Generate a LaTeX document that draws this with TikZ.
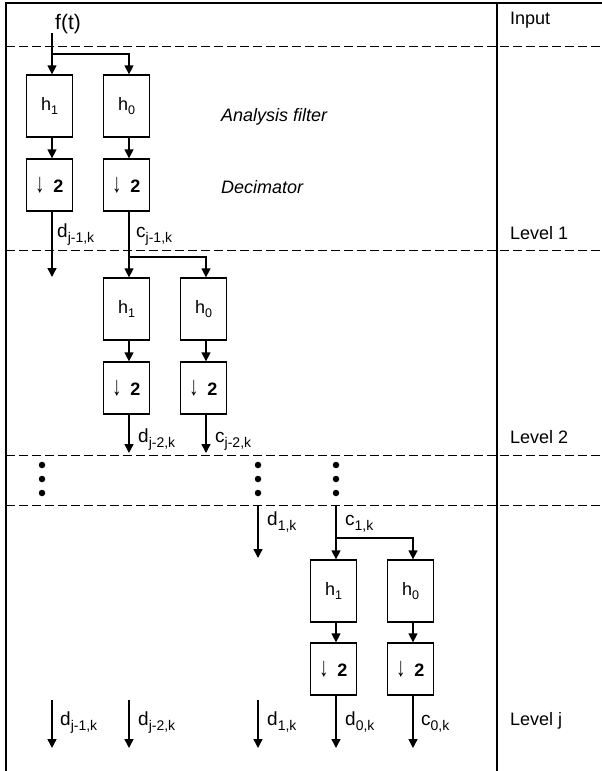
\documentclass[tikz,border=0pt]{standalone}
\usepackage{fontspec}
\setmainfont{Liberation Sans}
\usetikzlibrary{arrows.meta}
\tikzset{
  box/.style={draw, line width=1.3pt, minimum width=46pt, minimum height=62pt, inner sep=0pt, font=\fontsize{18}{20}\selectfont},
  dbox/.style={box, minimum height=52pt},
  flow/.style={line width=1.4pt, -{Triangle[length=9pt,width=9pt]}},
  lbl/.style={anchor=base west, inner sep=0pt, font=\fontsize{18}{20}\selectfont},
  sig/.style={anchor=base west, inner sep=0pt, font=\fontsize{19}{20}\selectfont},
  sep/.style={dash pattern=on 9pt off 4pt, line width=1pt},
  dotm/.style={circle, fill, inner sep=0pt, minimum size=6.5pt},
  frame/.style={line width=1.8pt}
}
\newcommand{\dn}{\scalebox{1}[1.5]{↓}\hspace{9pt}\textbf{2}}
\newcommand{\sbs}[1]{\raisebox{-5pt}{\fontsize{14}{14}\selectfont #1}}
\newcommand{\hsb}[1]{\raisebox{-3.5pt}{\fontsize{12.5}{12}\selectfont #1}}
\begin{document}
\begin{tikzpicture}[x=1pt,y=-1pt]
\useasboundingbox (0,0) rectangle (602,771);
% frame and separators
\draw[frame] (6,771) -- (6,3) -- (602,3);
\draw[line width=1.4pt] (497,3) -- (497,771);
\foreach \yy in {46,250,455,505} \draw[sep] (6,\yy) -- (602,\yy);
% columns
\coordinate (cA) at (52,0);
\coordinate (cB) at (129,0);
\coordinate (cC) at (206,0);
\coordinate (cD) at (258,0);
\coordinate (cE) at (336,0);
\coordinate (cF) at (413,0);
% labels right
\node[lbl] (tin) at (510,24) {Input};
\node[lbl] (tl1) at (510,239) {Level 1};
\node[lbl] (tl2) at (510,443) {Level 2};
\node[lbl] (tlj) at (510,725) {Level j};
% descriptions
\node[lbl, font=\fontsize{18}{20}\selectfont\itshape] (tan) at (221,121) {Analysis filter};
\node[lbl, font=\fontsize{18}{20}\selectfont\itshape] (tde) at (221,193) {Decimator};
% input
\node[lbl, font=\fontsize{21}{24}\selectfont] (ft) at (55,29) {f(t)};
\coordinate (fin) at (52,33);
\coordinate (br1) at (52,54);
% level 1
\node[box] (h1a) at (49.5,106) {h\hsb{1}};
\node[box] (h0a) at (126.5,106) {h\hsb{0}};
\node[dbox] (da) at (49.5,185) {\dn};
\node[dbox] (dca) at (126.5,185) {\dn};
\draw[flow] (fin) -- (h1a.north -| cA);
\draw[flow] (br1) -| (h0a.north -| cB);
\draw[flow] (h1a.south -| cA) -- (da.north -| cA);
\draw[flow] (h0a.south -| cB) -- (dca.north -| cB);
\coordinate (dAe) at (52,277);
\draw[flow] (da.south -| cA) -- (dAe);
\node[sig] (ld1) at (57,237) {d\sbs{j-1,k}};
\node[sig] (lc1) at (136,237) {c\sbs{j-1,k}};
% level 2
\node[box] (h1b) at (126.5,309) {h\hsb{1}};
\node[box] (h0b) at (203.5,309) {h\hsb{0}};
\node[dbox] (db) at (126.5,388) {\dn};
\node[dbox] (dcb) at (203.5,388) {\dn};
\coordinate (br2) at (129,257);
\draw[flow] (dca.south -| cB) -- (h1b.north -| cB);
\draw[flow] (br2) -| (h0b.north -| cC);
\draw[flow] (h1b.south -| cB) -- (db.north -| cB);
\draw[flow] (h0b.south -| cC) -- (dcb.north -| cC);
\coordinate (dBe) at (129,453);
\coordinate (cCe) at (206,453);
\draw[flow] (db.south -| cB) -- (dBe);
\draw[flow] (dcb.south -| cC) -- (cCe);
\node[sig] (ld2) at (138,442) {d\sbs{j-2,k}};
\node[sig] (lc2) at (215,442) {c\sbs{j-2,k}};
% dots
\foreach \xx/\nm in {42/a,258/b,336/c} {
  \node[dotm] (dot\nm1) at (\xx,465) {};
  \node[dotm] (dot\nm2) at (\xx,479) {};
  \node[dotm] (dot\nm3) at (\xx,493) {};
}
% level j
\coordinate (d1s) at (258,505);
\coordinate (d1e) at (258,558);
\draw[flow] (d1s) -- (d1e);
\node[sig] (ld3) at (267,525) {d\sbs{1,k}};
\node[sig] (lc3) at (345,525) {c\sbs{1,k}};
\node[box] (h1c) at (333.5,591) {h\hsb{1}};
\node[box] (h0c) at (410.5,591) {h\hsb{0}};
\node[dbox] (dc) at (333.5,669) {\dn};
\node[dbox] (dcc) at (410.5,669) {\dn};
\coordinate (c1s) at (336,505);
\coordinate (br3) at (336,538);
\draw[flow] (c1s) -- (h1c.north -| cE);
\draw[flow] (br3) -| (h0c.north -| cF);
\draw[flow] (h1c.south -| cE) -- (dc.north -| cE);
\draw[flow] (h0c.south -| cF) -- (dcc.north -| cF);
\coordinate (eE) at (336,748);
\coordinate (eF) at (413,748);
\draw[flow] (dc.south -| cE) -- (eE);
\draw[flow] (dcc.south -| cF) -- (eF);
\node[sig] (ld0) at (345,725) {d\sbs{0,k}};
\node[sig] (lc0) at (421,725) {c\sbs{0,k}};
% bottom free arrows
\coordinate (fa1) at (52,700);  \coordinate (fa1e) at (52,748);
\coordinate (fa2) at (129,700); \coordinate (fa2e) at (129,748);
\coordinate (fa3) at (258,700); \coordinate (fa3e) at (258,748);
\draw[flow] (fa1) -- (fa1e);
\draw[flow] (fa2) -- (fa2e);
\draw[flow] (fa3) -- (fa3e);
\node[sig] (lb1) at (60,725) {d\sbs{j-1,k}};
\node[sig] (lb2) at (138,725) {d\sbs{j-2,k}};
\node[sig] (lb3) at (267,725) {d\sbs{1,k}};
\end{tikzpicture}
\end{document}
